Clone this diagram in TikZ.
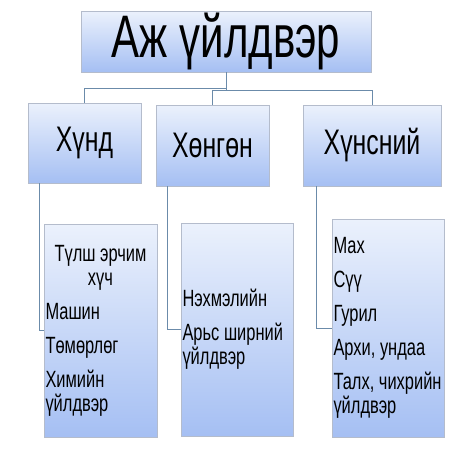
\documentclass[tikz,border=0pt]{standalone}
\usepackage{fontspec}
\setmainfont[FakeStretch=0.7]{Liberation Sans}
\usetikzlibrary{shadows}
\definecolor{boxtop}{HTML}{EBF1FC}
\definecolor{boxbot}{HTML}{A5BFF3}
\definecolor{boxline}{HTML}{B4BCCC}
\definecolor{linkcol}{HTML}{6B8BAA}
\tikzset{
  orgbox/.style={draw=boxline, top color=boxtop, bottom color=boxbot, inner sep=0pt,
    drop shadow={opacity=0.2,shadow xshift=1pt,shadow yshift=-1pt}},
  headbox/.style={orgbox, minimum width=#1, font=\fontsize{35.5}{40}\selectfont},
  listbox/.style={orgbox, text width=#1, inner xsep=1.5pt, font=\fontsize{23.5}{24}\selectfont,
    execute at begin node={\setlength{\parskip}{10pt}\setlength{\parindent}{0pt}%
      \spaceskip=4.6pt\relax\raggedright}},
}
\begin{document}
\begin{tikzpicture}[x=1pt,y=-1pt]
    \fill[white] (0,0) rectangle (453,453);
    \useasboundingbox (0,0) rectangle (453,453);

    % top level
    \node[orgbox, minimum width=290pt, minimum height=61pt, font=\fontsize{60}{60}\selectfont,
        execute at begin node={\spaceskip=11.7pt\relax}]
        (ajuildver) at (226,41.5) {Аж үйлдвэр};

    % second level
    \node[headbox=113pt, minimum height=80pt] (hund) at (84.5,143) {Хүнд};
    \node[headbox=113pt, minimum height=81pt] (hongon) at (212.5,145.5) {Хөнгөн};
    \node[headbox=138pt, minimum height=81pt] (hunsnii) at (372,145.5) {Хүнсний};

    % third level
    \node[listbox=110pt, minimum height=213pt] (hundlist) at (100.5,330.5)
        {\centering Түлш эрчим\\ хүч\par\raggedright Машин\par Төмөрлөг\par Химийн\\ үйлдвэр\par};
    \node[listbox=109pt, minimum height=213pt] (hongonlist) at (237,329.5)
        {Нэхмэлийн\par Арьс ширний\\ үйлдвэр\par};
    \node[listbox=109pt, minimum height=218pt] (hunsniilist) at (388,328)
        {Мах\par Сүү\par Гурил\par Архи, ундаа\par Талх, чихрийн\\ үйлдвэр\par};

    % connectors
    \begin{scope}[draw=linkcol, line width=0.9pt]
    \draw (ajuildver.south) -- ++(0,16) -| (hund.north);
    \draw (ajuildver.south) -- ++(0,18) -| (hongon.north);
    \draw (ajuildver.south) ++(0,18) -| (hunsnii.north);
    \draw ([xshift=12pt]hund.south west) |- (hundlist.west);
    \draw ([xshift=12pt]hongon.south west) |- (hongonlist.west);
    \draw ([xshift=14pt]hunsnii.south west) |- (hunsniilist.west);
    \end{scope}
\end{tikzpicture}
\end{document}
